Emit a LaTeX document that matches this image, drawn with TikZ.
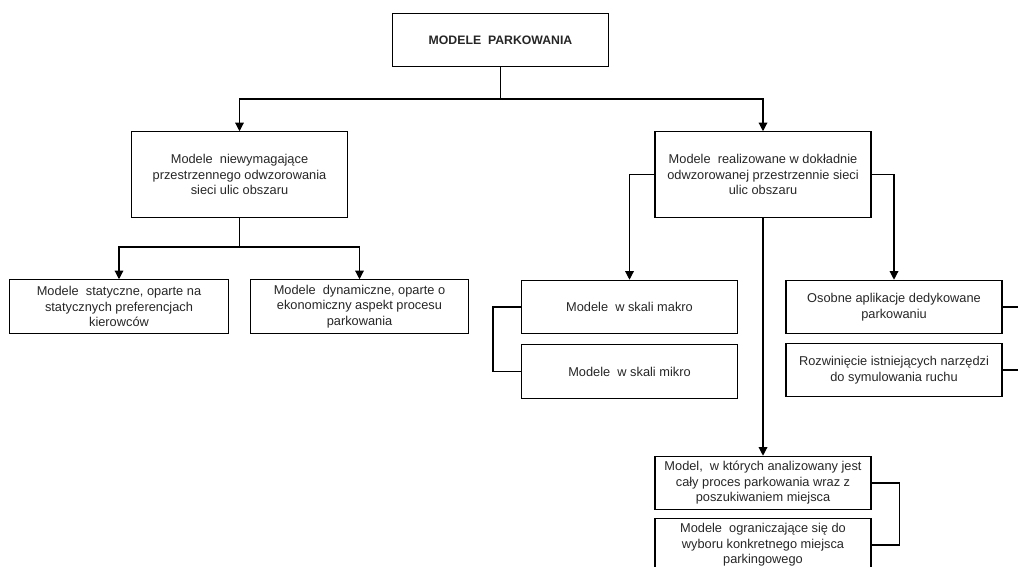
\documentclass[tikz,border=0pt]{standalone}
\usepackage{fontspec}
\setmainfont{Liberation Sans}
\usetikzlibrary{arrows.meta}
\begin{document}
\begin{tikzpicture}[
		x=0.75pt, y=-0.75pt,
		box/.style={
				draw,
				line width=0.9pt,
				align=center,
				inner sep=1pt,
				minimum width=#1,
				minimum height=40pt,
				text=black!85,
				font=\fontsize{9.6}{11.6}\selectfont,
			},
		box/.default=162pt,
		arr/.style={
				line width=0.9pt,
				-{Triangle[width=6.5pt,length=6.5pt]},
			},
		line/.style={line width=0.9pt},
	]
	\useasboundingbox (0,0) rectangle (1018,567);

	\node[box, font=\fontsize{9.2}{11.6}\selectfont\bfseries] (top) at (500.5,40) {MODELE\ \ PARKOWANIA};
	\node[box, minimum height=64pt] (L) at (239.5,174.5) {Modele\ \ niewymagające\\przestrzennego odwzorowania\\sieci ulic obszaru};
	\node[box, minimum height=64pt] (R) at (763,174.5) {Modele\ \ realizowane w dokładnie\\odwzorowanej przestrzennie sieci\\ulic obszaru};
	\node[box=164pt] (LS) at (119,306.5) {Modele\ \ statyczne, oparte na\\statycznych preferencjach\\kierowców};
	\node[box=163pt] (LD) at (359.5,306.5) {Modele\ \ dynamiczne, oparte o\\ekonomiczny aspekt procesu\\parkowania};
	\node[box] (makro) at (629.5,307) {Modele\ \ w skali makro};
	\node[box] (mikro) at (629.5,371.5) {Modele\ \ w skali mikro};
	\node[box] (osobne) at (894,307) {Osobne aplikacje dedykowane\\parkowaniu};
	\node[box] (rozw) at (894,370) {Rozwinięcie istniejących narzędzi\\do symulowania ruchu};
	\node[box] (B1) at (763,483) {Model,\ \ w których analizowany jest\\cały proces parkowania wraz z\\poszukiwaniem miejsca};
	\node[box] (B2) at (763,545) {Modele\ \ ograniczające się do\\wyboru konkretnego miejsca\\parkingowego};

	% rozgalezienia
	\coordinate (j1) at (500.5,99);
	\coordinate (j2) at (239.5,247);
	\draw[line] (top) -- (j1);
	\draw[arr] (j1) -| (L.north);
	\draw[arr] (j1) -| (R.north);
	\draw[line] (L) -- (j2);
	\draw[arr] (j2) -| (LS.north);
	\draw[arr] (j2) -| (LD.north);
	\draw[arr] (R.west) -| (makro.north);
	\draw[arr] (R.east) -| (osobne.north);
	\draw[arr] (R) -- (B1);

	% nawiasy
	\draw[line] (makro.west) -- ++(-28,0) |- (mikro.west);
	\draw[line] (osobne.east) -- ++(30,0) |- (rozw.east);
	\draw[line] (B1.east) -- ++(28,0) |- (B2.east);
\end{tikzpicture}
\end{document}
